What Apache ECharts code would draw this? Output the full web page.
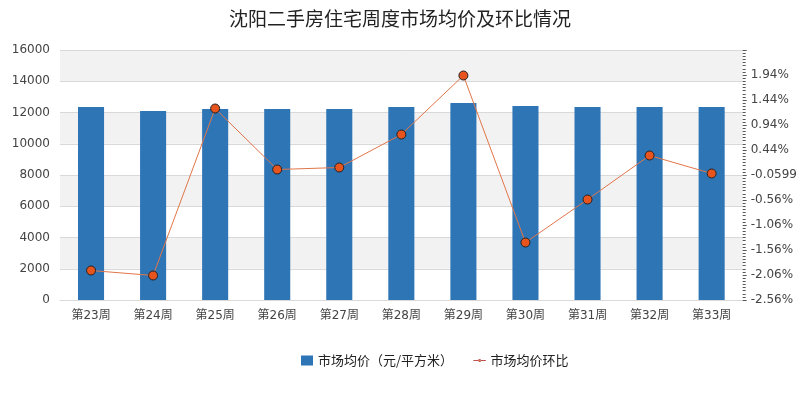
<!DOCTYPE html>
<html>
<head>
<meta charset="utf-8">
<script src="https://cdn.jsdelivr.net/npm/echarts@6/dist/echarts.min.js"></script>
<style>html,body{margin:0;padding:0;background:#fff}#c{width:800px;height:400px}</style>
</head>
<body>
<div id="c"></div>
<script>
var categories = ['第23周','第24周','第25周','第26周','第27周','第28周','第29周','第30周','第31周','第32周','第33周'];
var priceValues = [12350, 12100, 12220, 12220, 12220, 12350, 12610, 12420, 12350, 12350, 12350];
var ratioValues = [-1.97, -2.07, 1.27, 0.05, 0.09, 0.75, 1.93, -1.41, -0.55, 0.33, -0.03];
var leftTicks = [0, 16000, 2000];
var rightTicks = [-2.56, 2.44, 0.5];
var seriesNames = ['市场均价（元/平方米）', '市场均价环比'];
var titleText = '沈阳二手房住宅周度市场均价及环比情况';

var chart = echarts.init(document.getElementById('c'), null, {renderer: 'canvas'});
var font = '"DejaVu Sans", "Noto Sans CJK SC", sans-serif';
var cjk = '"Noto Sans CJK SC", sans-serif';
chart.setOption({
  animation: false,
  backgroundColor: '#fff',
  textStyle: {fontFamily: font},
  title: {
    text: titleText, left: 'center', top: 4,
    textStyle: {fontSize: 19, fontWeight: 'normal', color: '#222', fontFamily: cjk}
  },
  legend: {
    bottom: 28, left: 296, itemGap: 20,
    itemWidth: 12, itemHeight: 10,
    textStyle: {fontSize: 13, color: '#222', fontFamily: cjk},
    data: [
      {name: seriesNames[0], icon: 'rect', itemStyle: {color: '#2e75b6'}},
      {name: seriesNames[1], icon: 'path://M0,4 L6,4 L8,2 L10,4 L16,4 L10,4 L8,6 L6,4 Z',
       itemStyle: {color: '#e2764a', borderColor: '#c0504d', borderWidth: 1}}
    ]
  },
  grid: {left: 60, right: 49, top: 50, bottom: 100},
  xAxis: {
    type: 'category', data: categories,
    axisLine: {lineStyle: {color: '#d9d9d9'}},
    axisTick: {show: false},
    axisLabel: {color: '#444', fontSize: 12, margin: 10, fontFamily: font}
  },
  yAxis: [
    {
      type: 'value', min: leftTicks[0], max: leftTicks[1], interval: leftTicks[2],
      axisLine: {show: false}, axisTick: {show: false},
      axisLabel: {color: '#444', fontSize: 12, margin: 10, fontFamily: font,
        formatter: function (v) { return String(v); }},
      splitLine: {lineStyle: {color: '#d9d9d9'}},
      splitArea: {show: true, areaStyle: {color: ['#ffffff', '#f2f2f2']}}
    },
    {
      type: 'value', min: rightTicks[0], max: rightTicks[1], interval: rightTicks[2],
      position: 'right',
      axisLine: {show: false},
      axisTick: {show: true, length: 4, lineStyle: {color: '#555'}},
      minorTick: {show: true, splitNumber: 8, length: 3, lineStyle: {color: '#555'}},
      splitLine: {show: false},
      axisLabel: {
        color: '#444', fontSize: 12, margin: 8, showMaxLabel: false, fontFamily: font,
        formatter: function (v) {
          if (Math.abs(v + 0.06) < 1e-6) return '-0.0599';
          return v.toFixed(2) + '%';
        }
      }
    }
  ],
  series: [
    {
      name: seriesNames[0], type: 'bar', data: priceValues, barWidth: '42%',
      itemStyle: {color: '#2e75b6'}
    },
    {
      name: seriesNames[1], type: 'line', yAxisIndex: 1, data: ratioValues,
      symbol: 'circle', symbolSize: 9,
      lineStyle: {color: '#e2764a', width: 1},
      itemStyle: {color: '#e8541e', borderColor: '#222', borderWidth: 1}
    }
  ]
});
</script>
</body>
</html>
